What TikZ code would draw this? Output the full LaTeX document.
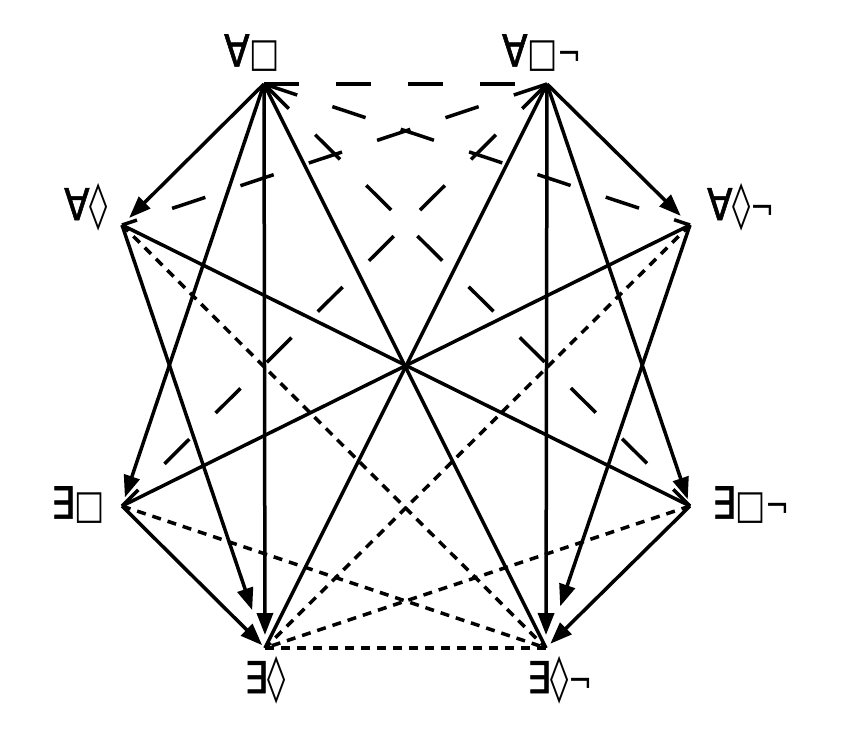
\documentclass[tikz,border=0pt]{standalone}
\usepackage{fontspec}
\newfontfamily\labfont[FakeStretch=0.8]{DejaVu Sans}
\newfontfamily\labbold[FakeStretch=0.85,FakeBold=1.2]{DejaVu Sans}
\usetikzlibrary{arrows.meta}
\newcommand\gAll{{\labbold\fontsize{44}{44}\selectfont ∀}}
\newcommand\gEx{{\labbold\fontsize{44}{44}\selectfont ∃}}
\newcommand\gBox{{\fontsize{40}{40}\selectfont □}}
\newcommand\gDia{{\fontsize{46}{46}\selectfont ◊}}
\newcommand\gNeg{{\fontsize{36}{36}\selectfont ¬}}
\begin{document}
\begin{tikzpicture}[x=1pt,y=-1pt,
  solidline/.style={line width=3.5pt},
  arr/.style={line width=3.5pt,-{Triangle[length=22pt,width=16pt]}},
  longdash/.style={line width=3.5pt,dash pattern=on 35pt off 37pt},
  shortdash/.style={line width=3.5pt,dash pattern=on 9pt off 7pt},
  lab/.style={inner sep=0pt,font=\labfont}]
\useasboundingbox (0,0) rectangle (844,748);
\coordinate (A) at (264,84);
\coordinate (B) at (547,84);
\coordinate (C) at (122,225);
\coordinate (D) at (690,225);
\coordinate (E) at (122,506);
\coordinate (F) at (690,506);
\coordinate (G) at (265,648);
\coordinate (H) at (546,648);
% labels
\node[lab] (lA) at (252,53) {\gAll\gBox};
\node[lab] (lB) at (542,53) {\gAll\gBox\gNeg};
\node[lab] (lC) at (86,207) {\gAll\gDia};
\node[lab] (lD) at (741,207) {\gAll\gDia\gNeg};
\node[lab] (lE) at (78,505) {\gEx\gBox};
\node[lab] (lF) at (751,505) {\gEx\gBox\gNeg};
\node[lab] (lG) at (265,680) {\gEx\gDia};
\node[lab] (lH) at (560,680) {\gEx\gDia\gNeg};
% long dashed
\draw[longdash] (A) -- (B);
\draw[longdash] (A) -- (D);
\draw[longdash] (A) -- (F);
\draw[longdash] (B) -- (C);
\draw[longdash] (B) -- (E);
% short dashed
\draw[shortdash] (C) -- (H);
\draw[shortdash] (D) -- (G);
\draw[shortdash] (E) -- (H);
\draw[shortdash] (F) -- (G);
\draw[shortdash] (G) -- (H);
% plain solid
\draw[solidline] (A) -- (H);
\draw[solidline] (B) -- (G);
\draw[solidline] (C) -- (F);
\draw[solidline] (D) -- (E);
% arrows
\draw[arr,shorten >=10pt] (A) -- (C);
\draw[arr,shorten >=9pt] (A) -- (E);
\draw[arr,shorten >=13pt] (A) -- (G);
\draw[arr,shorten >=13pt] (B) -- (D);
\draw[arr,shorten >=7pt] (B) -- (F);
\draw[arr,shorten >=13pt] (B) -- (H);
\draw[arr,shorten >=40pt] (C) -- (G);
\draw[arr,shorten >=44pt] (D) -- (H);
\draw[arr,shorten >=4pt] (E) -- (G);
\draw[arr,shorten >=6pt] (F) -- (H);
\end{tikzpicture}
\end{document}
